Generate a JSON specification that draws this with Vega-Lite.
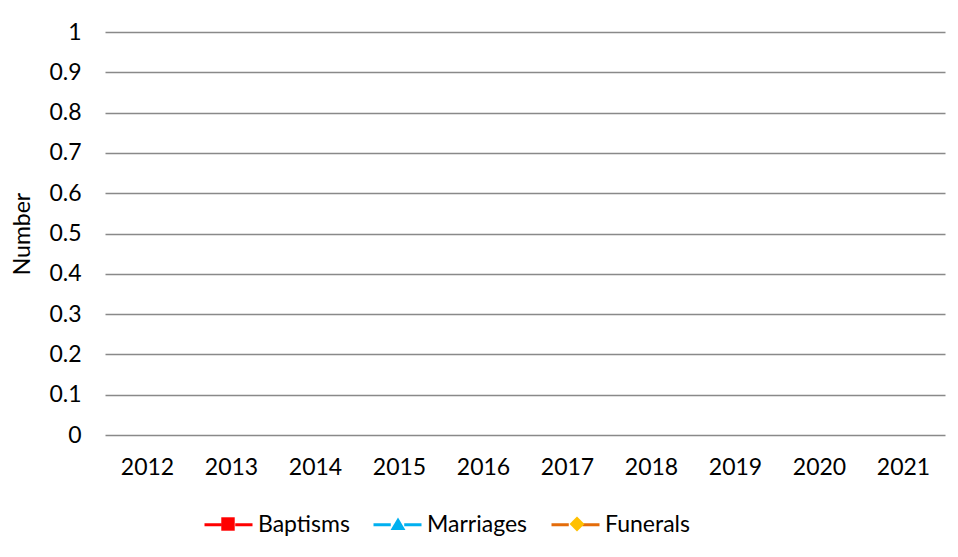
{
  "$schema": "https://vega.github.io/schema/vega-lite/v6.json",
  "width": 840,
  "height": 403,
  "autosize": {"type": "none"},
  "padding": {"left": 105, "top": 32, "right": 13, "bottom": 122},
  "background": "white",
  "config": {
    "view": {"stroke": null},
    "font": "Lato",
    "axis": {"labelFont": "Lato", "titleFont": "Lato", "labelColor": "#000000", "titleColor": "#000000"},
    "legend": {"labelFont": "Lato"}
  },
  "data": {
    "values": [
      {"year": "2012", "series": "Baptisms", "count": null},
      {"year": "2013", "series": "Baptisms", "count": null},
      {"year": "2014", "series": "Baptisms", "count": null},
      {"year": "2015", "series": "Baptisms", "count": null},
      {"year": "2016", "series": "Baptisms", "count": null},
      {"year": "2017", "series": "Baptisms", "count": null},
      {"year": "2018", "series": "Baptisms", "count": null},
      {"year": "2019", "series": "Baptisms", "count": null},
      {"year": "2020", "series": "Baptisms", "count": null},
      {"year": "2021", "series": "Baptisms", "count": null},
      {"year": "2012", "series": "Marriages", "count": null},
      {"year": "2013", "series": "Marriages", "count": null},
      {"year": "2014", "series": "Marriages", "count": null},
      {"year": "2015", "series": "Marriages", "count": null},
      {"year": "2016", "series": "Marriages", "count": null},
      {"year": "2017", "series": "Marriages", "count": null},
      {"year": "2018", "series": "Marriages", "count": null},
      {"year": "2019", "series": "Marriages", "count": null},
      {"year": "2020", "series": "Marriages", "count": null},
      {"year": "2021", "series": "Marriages", "count": null},
      {"year": "2012", "series": "Funerals", "count": null},
      {"year": "2013", "series": "Funerals", "count": null},
      {"year": "2014", "series": "Funerals", "count": null},
      {"year": "2015", "series": "Funerals", "count": null},
      {"year": "2016", "series": "Funerals", "count": null},
      {"year": "2017", "series": "Funerals", "count": null},
      {"year": "2018", "series": "Funerals", "count": null},
      {"year": "2019", "series": "Funerals", "count": null},
      {"year": "2020", "series": "Funerals", "count": null},
      {"year": "2021", "series": "Funerals", "count": null}
    ]
  },
  "encoding": {
    "x": {
      "field": "year", "type": "ordinal",
      "scale": {"type": "point", "padding": 0.5, "domain": ["2012","2013","2014","2015","2016","2017","2018","2019","2020","2021"]},
      "axis": {"title": null, "labelAngle": 0, "labelFontSize": 23, "labelPadding": 21, "domain": false, "ticks": false, "grid": false}
    },
    "y": {
      "field": "count", "type": "quantitative",
      "scale": {"domain": [0, 1], "nice": false, "zero": true},
      "axis": {"title": "Number", "titleFontSize": 23, "titleFontWeight": "normal", "titlePadding": 14, "labelFontSize": 23, "labelPadding": 24, "ticks": false, "tickSize": 0, "domain": false, "grid": true, "gridColor": "#898989", "gridWidth": 1.5, "values": [0,0.1,0.2,0.3,0.4,0.5,0.6,0.7,0.8,0.9,1], "format": ".1~f"}
    }
  },
  "layer": [
    {
      "mark": {"type": "line", "strokeWidth": 3, "opacity": 1},
      "encoding": {
        "stroke": {
          "field": "series", "type": "nominal",
          "scale": {"domain": ["Baptisms", "Marriages", "Funerals", "-"], "range": ["#FF0000", "#00B0F0", "#E46C0A", "#FFFFFF"]},
          "legend": {
            "title": null, "orient": "none", "direction": "horizontal", "legendX": 98, "legendY": 467, "padding": 0,
            "values": ["Baptisms", "Marriages", "Funerals"],
            "symbolType": "M-1,0H-0.28M0.28,0H1", "symbolSize": 2304, "symbolStrokeWidth": 3, "symbolOpacity": 1,
            "labelFontSize": 23, "labelOffset": 4, "columnPadding": 17, "labelColor": "#000000"
          }
        }
      }
    },
    {
      "mark": {"type": "point", "filled": true, "stroke": "black", "strokeWidth": 1.5, "opacity": 1},
      "encoding": {
        "fill": {
          "field": "series", "type": "nominal",
          "scale": {"domain": ["Baptisms", "Marriages", "Funerals"], "range": ["#FF0000", "#00B0F0", "#FFC000"]},
          "legend": {
            "title": null, "orient": "none", "direction": "horizontal", "legendX": 98, "legendY": 467, "padding": 0,
            "symbolSize": 2304, "symbolStrokeColor": "black", "symbolStrokeWidth": 1.5, "symbolOpacity": 1,
            "labelFontSize": 23, "labelOffset": 4, "columnPadding": 24, "labelOpacity": 0
          }
        },
        "shape": {
          "field": "series", "type": "nominal",
          "scale": {"domain": ["Baptisms", "Marriages", "Funerals"], "range": ["M-0.28,-0.28H0.28V0.28H-0.28Z", "M0,-0.27L0.31,0.25L-0.31,0.25Z", "M0,-0.31L0.31,0L0,0.31L-0.31,0Z"]},
          "legend": {
            "title": null, "orient": "none", "direction": "horizontal", "legendX": 98, "legendY": 467, "padding": 0,
            "symbolSize": 2304, "symbolStrokeColor": "black", "symbolStrokeWidth": 1.5, "symbolOpacity": 1,
            "labelFontSize": 23, "labelOffset": 4, "columnPadding": 24, "labelOpacity": 0
          }
        }
      }
    }
  ]
}
